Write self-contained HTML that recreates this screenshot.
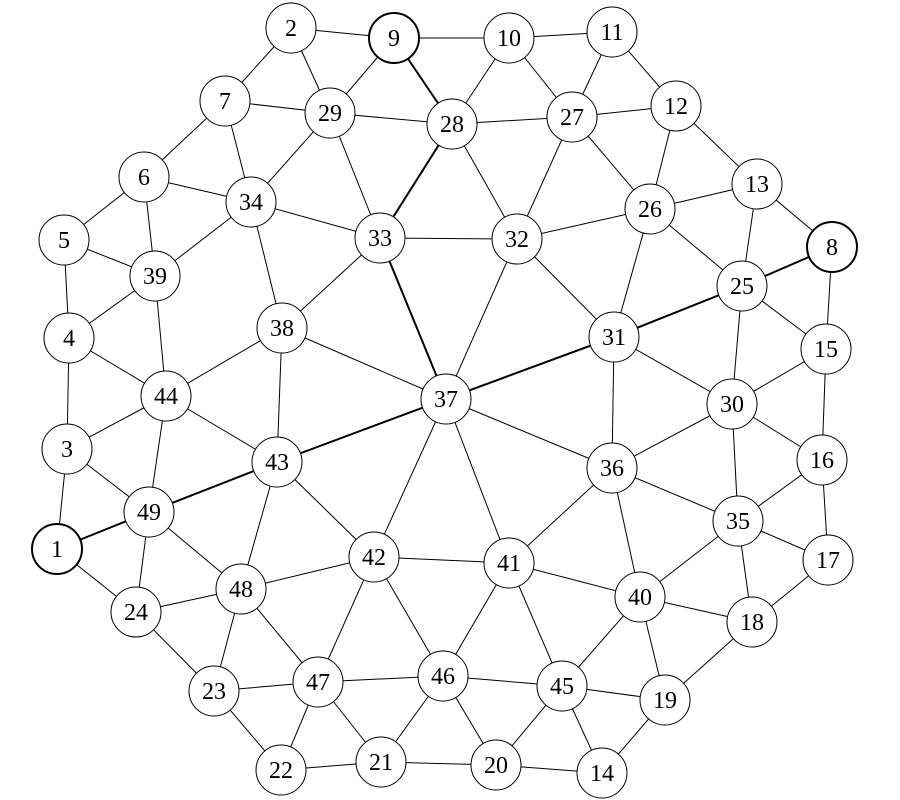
<!DOCTYPE html>
<html><head><meta charset="utf-8"><style>html,body{margin:0;padding:0;background:#fff;}svg{display:block}</style></head>
<body>
<svg width="900" height="800" viewBox="0 0 900 800" xmlns="http://www.w3.org/2000/svg">
<g stroke="#000" stroke-width="1" id="edges"></g>
<g id="nodes"></g>
<script>
var N={1:[57,549],2:[291,28],3:[67,449],4:[69,338],5:[64,240],6:[144,177],7:[225,101],8:[832,247],9:[394,38],10:[509,38],11:[612,32],12:[676,106],13:[757,184],14:[602,773],15:[826,349],16:[822,460],17:[828,560],18:[752,622],19:[665,700],20:[496,765],21:[381,762],22:[281,770],23:[214,691],24:[136,612],25:[742,286],26:[650,209],27:[572,117],28:[452,124],29:[330,113],30:[732,404],31:[614,337],32:[517,239],33:[380,238],34:[251,202],35:[738,521],36:[612,468],37:[446,399],38:[282,328],39:[155,276],40:[640,597],41:[509,563],42:[374,557],43:[277,462],44:[166,396],45:[562,686],46:[443,676],47:[318,682],48:[241,589],49:[149,512]};
var E="1-3 1-24 3-4 3-44 3-49 4-5 4-39 4-44 5-6 5-39 6-7 6-34 6-39 7-2 7-29 7-34 2-9 2-29 9-10 9-29 10-11 10-28 10-27 11-27 11-12 12-27 12-26 12-13 13-26 13-8 13-25 8-15 25-26 25-15 25-30 15-30 15-16 16-30 16-35 16-17 17-35 17-18 18-35 18-40 18-19 19-40 19-45 19-14 14-45 14-20 20-45 20-46 20-21 21-46 21-47 21-22 22-47 22-23 23-47 23-48 23-24 24-48 24-49 49-44 49-48 44-39 44-38 44-43 39-34 34-29 34-33 34-38 29-28 29-33 28-27 28-32 27-26 27-32 26-32 26-31 32-33 32-31 32-37 33-38 38-37 38-43 43-42 43-48 37-36 37-41 37-42 31-30 31-36 30-36 30-35 36-35 36-40 36-41 35-40 40-41 40-45 41-42 41-45 41-46 42-48 42-46 42-47 46-47 46-45 48-47".split(" ");
var T="1-49 49-43 43-37 37-31 31-25 25-8 9-28 28-33 33-37".split(" ");
var ns="http://www.w3.org/2000/svg",eg=document.getElementById("edges"),ng=document.getElementById("nodes");
function line(s,w){var p=s.split("-"),a=N[p[0]],b=N[p[1]],l=document.createElementNS(ns,"line");l.setAttribute("x1",a[0]);l.setAttribute("y1",a[1]);l.setAttribute("x2",b[0]);l.setAttribute("y2",b[1]);l.setAttribute("stroke-width",w);eg.appendChild(l);}
E.forEach(function(s){line(s,1)});T.forEach(function(s){line(s,2)});
for(var k in N){var c=document.createElementNS(ns,"circle");c.setAttribute("cx",N[k][0]);c.setAttribute("cy",N[k][1]);c.setAttribute("r",25);c.setAttribute("fill","#fff");c.setAttribute("stroke","#000");c.setAttribute("stroke-width",(k=="1"||k=="8"||k=="9")?2:1);ng.appendChild(c);
var t=document.createElementNS(ns,"text");t.setAttribute("x",N[k][0]);t.setAttribute("y",N[k][1]+8);t.setAttribute("text-anchor","middle");t.setAttribute("font-family","Liberation Serif, serif");t.setAttribute("font-size","24");t.textContent=k;ng.appendChild(t);}
</script>
</svg>
</body></html>
